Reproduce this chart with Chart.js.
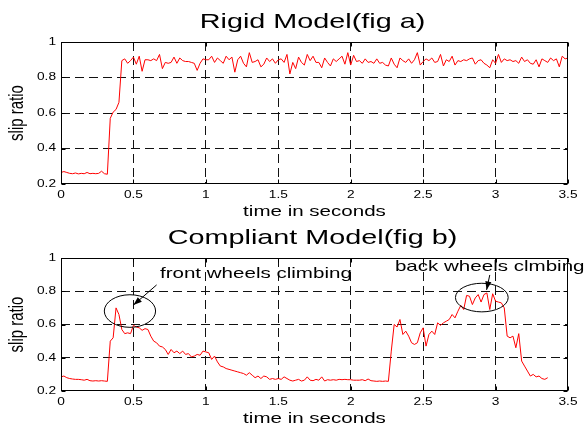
<!DOCTYPE html>
<html>
<head>
<meta charset="utf-8">
<script src="https://cdn.jsdelivr.net/npm/chart.js@4.4.0/dist/chart.umd.min.js"></script>
<style>
    body { margin: 0; background: #fff; }
    #wrap { position: relative; width: 585px; height: 428px; }
    canvas { position: absolute; left: 0; }
    #chartA { top: 0; }
    #chartB { top: 222px; }
</style>
</head>
<body>
<div id="wrap">
    <canvas id="chartA" width="585" height="222"></canvas>
    <canvas id="chartB" width="585" height="206"></canvas>
</div>
<script>
// ----------------------------
// DATA
// ----------------------------
const sampleStep = 0.02; // seconds between samples

const rigidSlip = [
    0.265,0.27,0.265,0.26,0.258,0.262,0.257,0.26,0.258,0.265,
    0.258,0.26,0.258,0.26,0.272,0.258,0.255,0.57,0.605,0.62,
    0.66,0.895,0.905,0.88,0.895,0.915,0.875,0.92,0.835,0.9,
    0.9,0.895,0.905,0.895,0.93,0.85,0.885,0.88,0.885,0.915,
    0.88,0.91,0.895,0.89,0.89,0.885,0.88,0.84,0.88,0.905,
    0.9,0.9,0.92,0.885,0.91,0.895,0.88,0.92,0.9,0.915,
    0.83,0.9,0.92,0.88,0.86,0.94,0.885,0.89,0.9,0.86,
    0.875,0.91,0.89,0.905,0.88,0.9,0.905,0.885,0.93,0.82,
    0.885,0.85,0.915,0.885,0.87,0.93,0.895,0.92,0.885,0.885,
    0.855,0.91,0.885,0.865,0.905,0.89,0.905,0.92,0.875,0.94,
    0.87,0.925,0.89,0.895,0.88,0.905,0.885,0.89,0.88,0.905,
    0.88,0.885,0.87,0.865,0.91,0.875,0.855,0.91,0.895,0.885,
    0.905,0.88,0.9,0.94,0.87,0.89,0.905,0.895,0.91,0.885,
    0.89,0.93,0.865,0.9,0.89,0.92,0.87,0.895,0.89,0.9,
    0.895,0.905,0.91,0.875,0.895,0.9,0.88,0.87,0.855,0.9,
    0.88,0.93,0.885,0.905,0.895,0.9,0.89,0.895,0.88,0.915,
    0.89,0.9,0.88,0.875,0.9,0.86,0.905,0.895,0.885,0.91,
    0.895,0.905,0.86,0.92,0.905,0.91
];

const compliantSlip = [
    0.285,0.29,0.28,0.275,0.272,0.27,0.27,0.268,0.265,0.27,
    0.262,0.26,0.262,0.26,0.262,0.26,0.258,0.5,0.52,0.70,
    0.66,0.57,0.545,0.55,0.545,0.595,0.585,0.58,0.565,0.575,
    0.57,0.53,0.5,0.49,0.47,0.465,0.45,0.42,0.45,0.43,
    0.44,0.425,0.44,0.42,0.425,0.405,0.41,0.42,0.415,0.44,
    0.435,0.43,0.39,0.41,0.375,0.35,0.345,0.335,0.33,0.325,
    0.32,0.315,0.31,0.305,0.295,0.31,0.295,0.28,0.29,0.275,
    0.29,0.285,0.27,0.275,0.27,0.275,0.27,0.285,0.275,0.265,
    0.26,0.265,0.27,0.26,0.265,0.285,0.265,0.262,0.27,0.265,
    0.285,0.26,0.268,0.265,0.268,0.265,0.27,0.268,0.27,0.268,
    0.268,0.265,0.265,0.265,0.268,0.262,0.272,0.262,0.26,0.258,
    0.26,0.258,0.26,0.258,0.44,0.6,0.585,0.63,0.54,0.56,
    0.53,0.49,0.48,0.49,0.55,0.58,0.47,0.54,0.56,0.54,
    0.61,0.595,0.61,0.62,0.63,0.66,0.64,0.68,0.715,0.69,
    0.775,0.77,0.72,0.76,0.78,0.735,0.78,0.79,0.69,0.785,
    0.74,0.735,0.73,0.70,0.53,0.52,0.53,0.46,0.545,0.38,
    0.35,0.32,0.29,0.30,0.285,0.29,0.275,0.27,0.28
];

const xTicks = [0, 0.5, 1, 1.5, 2, 2.5, 3, 3.5];
const xTickLabels = ["0", "0.5", "1", "1.5", "2", "2.5", "3", "3.5"];
const yTicks = [0.2, 0.4, 0.6, 0.8, 1];
const yTickLabels = ["0.2", "0.4", "0.6", "0.8", "1"];

const titles = ["Rigid Model(fig a)", "Compliant Model(fig b)"];
const xLabel = "time in seconds";
const yLabel = "slip ratio";

// annotations on fig b, in data units
const noteTexts = [
    { text: "front wheels climbing", x: 0.683, y: 0.88 },
    { text: "back wheels clmbing", x: 2.305, y: 0.922 }
];
const noteEllipses = [
    { x: 0.476, y: 0.681, rx: 0.177, ry: 0.098 },
    { x: 2.905, y: 0.762, rx: 0.182, ry: 0.086 }
];
const noteArrows = [
    { x1: 0.66, y1: 0.838, x2: 0.50, y2: 0.717 },
    { x1: 2.96, y1: 0.898, x2: 2.938, y2: 0.808 }
];

// ----------------------------
// DRAWING HELPERS
// ----------------------------
const FONT = '"Liberation Sans", Arial, sans-serif';
const STRETCH = 1.37; // the reference text is wide

function stretchedText(ctx, text, x, y, size, align, baseline) {
    ctx.save();
    ctx.translate(x, y);
    ctx.scale(STRETCH, 1);
    ctx.font = size + "px " + FONT;
    ctx.fillStyle = "#000";
    ctx.textAlign = align;
    ctx.textBaseline = baseline;
    ctx.fillText(text, 0, 0);
    ctx.restore();
}

const matlabFrame = {
    id: "matlabFrame",
    afterDraw(chart, args, opts) {
        const { ctx, chartArea: a } = chart;
        const xs = chart.scales.x, ys = chart.scales.y;
        const L = Math.round(a.left) + 0.5, R = Math.round(a.right) - 0.5;
        const T = Math.round(a.top) + 0.5, B = Math.round(a.bottom) - 0.5;

        ctx.save();
        ctx.strokeStyle = "#000";
        ctx.lineWidth = 1;
        ctx.strokeRect(L, T, R - L, B - T);

        // small inward ticks
        ctx.beginPath();
        xTicks.forEach(v => {
            const px = Math.round(xs.getPixelForValue(v)) + 0.5;
            ctx.moveTo(px, B); ctx.lineTo(px, B - 4);
            ctx.moveTo(px, T); ctx.lineTo(px, T + 4);
        });
        yTicks.forEach(v => {
            const py = Math.round(ys.getPixelForValue(v)) + 0.5;
            ctx.moveTo(L, py); ctx.lineTo(L + 4, py);
            ctx.moveTo(R, py); ctx.lineTo(R - 4, py);
        });
        ctx.stroke();
        ctx.restore();

        // tick labels
        xTicks.forEach((v, i) => {
            stretchedText(ctx, xTickLabels[i], xs.getPixelForValue(v), a.bottom + 14, 10, "center", "alphabetic");
        });
        yTicks.forEach((v, i) => {
            stretchedText(ctx, yTickLabels[i], a.left - 5, ys.getPixelForValue(v), 10, "right", "middle");
        });

        const cx = (a.left + a.right) / 2;
        stretchedText(ctx, opts.title, cx - 2, a.top - 14, 21, "center", "alphabetic");
        stretchedText(ctx, xLabel, cx, a.bottom + 32, 15, "center", "alphabetic");

        // y label, rotated
        ctx.save();
        ctx.translate(17, (a.top + a.bottom) / 2);
        ctx.rotate(-Math.PI / 2);
        ctx.scale(1, STRETCH);
        ctx.font = "15px " + FONT;
        ctx.fillStyle = "#000";
        ctx.textAlign = "center";
        ctx.textBaseline = "middle";
        ctx.fillText(yLabel, 0, 0);
        ctx.restore();

        if (!opts.notes) return;

        ctx.save();
        ctx.strokeStyle = "#000";
        ctx.fillStyle = "#000";
        ctx.lineWidth = 1;
        noteEllipses.forEach(e => {
            const ex = xs.getPixelForValue(e.x), ey = ys.getPixelForValue(e.y);
            const rx = xs.getPixelForValue(e.x + e.rx) - ex;
            const ry = ey - ys.getPixelForValue(e.y + e.ry);
            ctx.beginPath();
            ctx.ellipse(ex, ey, rx, ry, 0, 0, Math.PI * 2);
            ctx.stroke();
        });
        noteArrows.forEach(ar => {
            const x1 = xs.getPixelForValue(ar.x1), y1 = ys.getPixelForValue(ar.y1);
            const x2 = xs.getPixelForValue(ar.x2), y2 = ys.getPixelForValue(ar.y2);
            const ang = Math.atan2(y2 - y1, x2 - x1);
            ctx.beginPath();
            ctx.moveTo(x1, y1);
            ctx.lineTo(x2, y2);
            ctx.stroke();
            ctx.beginPath();
            ctx.moveTo(x2, y2);
            ctx.lineTo(x2 - 9 * Math.cos(ang - 0.35), y2 - 9 * Math.sin(ang - 0.35));
            ctx.lineTo(x2 - 9 * Math.cos(ang + 0.35), y2 - 9 * Math.sin(ang + 0.35));
            ctx.closePath();
            ctx.fill();
        });
        ctx.restore();

        noteTexts.forEach(n => {
            stretchedText(ctx, n.text, xs.getPixelForValue(n.x), ys.getPixelForValue(n.y), 15, "left", "alphabetic");
        });
    }
};

// ----------------------------
// CHARTS
// ----------------------------
function makeChart(canvasId, values, title, topPad, xAxisHeight, withNotes) {
    const points = values.map((v, i) => ({ x: +(i * sampleStep).toFixed(2), y: v }));
    const gridColor = edges => (c => edges.includes(c.tick.value) ? "rgba(0,0,0,0)" : "#111");

    return new Chart(document.getElementById(canvasId), {
        type: "line",
        data: {
            datasets: [{
                data: points,
                borderColor: "#ff0000",
                borderWidth: 1,
                pointRadius: 0,
                tension: 0,
                fill: false
            }]
        },
        options: {
            responsive: false,
            animation: false,
            devicePixelRatio: 1,
            layout: { padding: { top: topPad, right: 17, bottom: 0, left: 0 } },
            plugins: {
                legend: { display: false },
                tooltip: { enabled: false },
                matlabFrame: { title: title, notes: withNotes }
            },
            scales: {
                x: {
                    type: "linear",
                    min: 0,
                    max: 3.5,
                    afterBuildTicks: s => { s.ticks = xTicks.map(v => ({ value: v })); },
                    afterFit: s => { s.height = xAxisHeight; },
                    ticks: { display: false },
                    grid: { color: gridColor([0, 3.5]), lineWidth: 1, drawTicks: false },
                    border: { display: false, dash: [9, 5] }
                },
                y: {
                    min: 0.2,
                    max: 1,
                    afterBuildTicks: s => { s.ticks = yTicks.map(v => ({ value: v })); },
                    afterFit: s => { s.width = 61; },
                    ticks: { display: false },
                    grid: { color: gridColor([0.2, 1]), lineWidth: 1, drawTicks: false },
                    border: { display: false, dash: [9, 5] }
                }
            }
        },
        plugins: [matlabFrame]
    });
}

makeChart("chartA", rigidSlip, titles[0], 42, 38, false);
makeChart("chartB", compliantSlip, titles[1], 36, 37, true);
</script>
</body>
</html>
